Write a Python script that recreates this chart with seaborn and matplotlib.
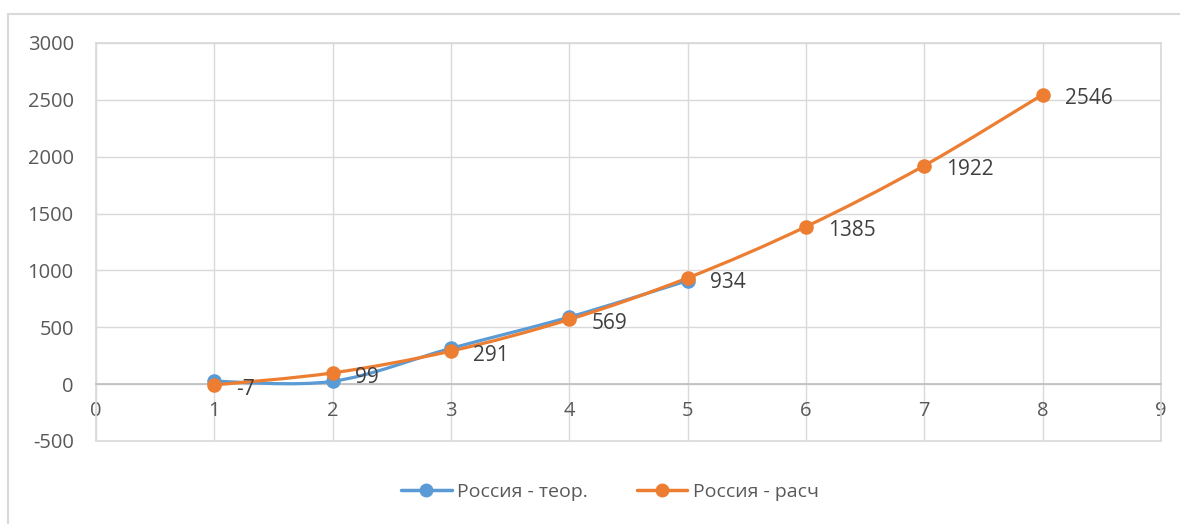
import matplotlib
matplotlib.use("Agg")
import matplotlib.pyplot as plt
import numpy as np
import pandas as pd
import seaborn as sns
from matplotlib.lines import Line2D
from matplotlib.patches import PathPatch, Rectangle
from matplotlib.path import Path

# ── Data ──────────────────────────────────────────────────────────────────────
x_theor = [1, 2, 3, 4, 5]
y_theor = [25, 25, 315, 590, 910]

x_calc = [1, 2, 3, 4, 5, 6, 7, 8]
y_calc = [-7, 99, 291, 569, 934, 1385, 1922, 2546]

name_theor = "Россия - теор."
name_calc = "Россия - расч"

BLUE = "#5B9BD5"
ORANGE = "#ED7D31"
TEXT = "#595959"
GRID = "#D9D9D9"


def smooth_path(xs, ys):
    """Excel-style smoothed line as a cubic Bezier path through the points."""
    pts = np.column_stack([xs, ys]).astype(float)
    n = len(pts)
    verts = [pts[0]]
    codes = [Path.MOVETO]
    for i in range(n - 1):
        p0 = pts[i - 1] if i > 0 else pts[i]
        p1 = pts[i]
        p2 = pts[i + 1]
        p3 = pts[i + 2] if i + 2 < n else pts[i + 1]
        c1 = p1 + (p2 - p0) / 6.0
        c2 = p2 - (p3 - p1) / 6.0
        verts += [c1, c2, p2]
        codes += [Path.CURVE4] * 3
    return Path(verts, codes)


sns.set_theme(style="white")
plt.rcParams["font.family"] = ["Open Sans", "DejaVu Sans"]
plt.rcParams["axes.unicode_minus"] = False

fig = plt.figure(figsize=(11.8, 5.24), dpi=100)
# outer chart border
fig.patches.append(Rectangle((8 / 1180, -0.05), 1.1, 1 - 14 / 524 + 0.05,
                             transform=fig.transFigure, fill=False,
                             edgecolor="#D9D9D9", linewidth=1.5))
ax = fig.add_axes([96 / 1180, 1 - 441 / 524, (1161 - 96) / 1180, (441 - 43) / 524])

for xs, ys, col in [(x_theor, y_theor, BLUE), (x_calc, y_calc, ORANGE)]:
    ax.add_patch(PathPatch(smooth_path(xs, ys), fill=False, edgecolor=col,
                           linewidth=2.3, capstyle="round", zorder=3))

df_t = pd.DataFrame({"x": x_theor, "y": y_theor})
df_c = pd.DataFrame({"x": x_calc, "y": y_calc})
sns.scatterplot(data=df_t, x="x", y="y", color=BLUE, s=110, linewidth=0,
                ax=ax, zorder=4)
sns.scatterplot(data=df_c, x="x", y="y", color=ORANGE, s=110, linewidth=0,
                ax=ax, zorder=5)

for xv, yv in zip(x_calc, y_calc):
    ax.annotate(str(yv), (xv, yv), xytext=(16, -3), textcoords="offset points",
                ha="left", va="center", fontsize=15, color="#404040", zorder=6)

ax.set_xlim(0, 9)
ax.set_ylim(-500, 3000)
ax.set_xticks(range(0, 10))
ax.set_yticks(range(-500, 3001, 500))
ax.grid(True, color=GRID, linewidth=1)
ax.axhline(-500, color=GRID, linewidth=1.2, clip_on=False, zorder=1)
ax.set_axisbelow(True)
ax.set_xlabel("")
ax.set_ylabel("")

ax.spines["bottom"].set_position(("data", 0))
ax.spines["bottom"].set_color("#BFBFBF")
for s in ["top", "right", "left"]:
    ax.spines[s].set_color(GRID)
ax.tick_params(axis="both", length=0, colors=TEXT, labelsize=14.5)
ax.tick_params(axis="y", pad=16)
ax.tick_params(axis="x", pad=12)

handles = [
    Line2D([], [], color=BLUE, lw=2.5, marker="o", markersize=9),
    Line2D([], [], color=ORANGE, lw=2.5, marker="o", markersize=9),
]
fig.legend(handles, [name_theor, name_calc], loc="center",
           bbox_to_anchor=(0.517, 1 - 492 / 524), ncol=2, frameon=False,
           fontsize=14, labelcolor=TEXT, handlelength=2.6, columnspacing=2.5,
           handletextpad=0.3)

fig.savefig("out.png", dpi=100)
